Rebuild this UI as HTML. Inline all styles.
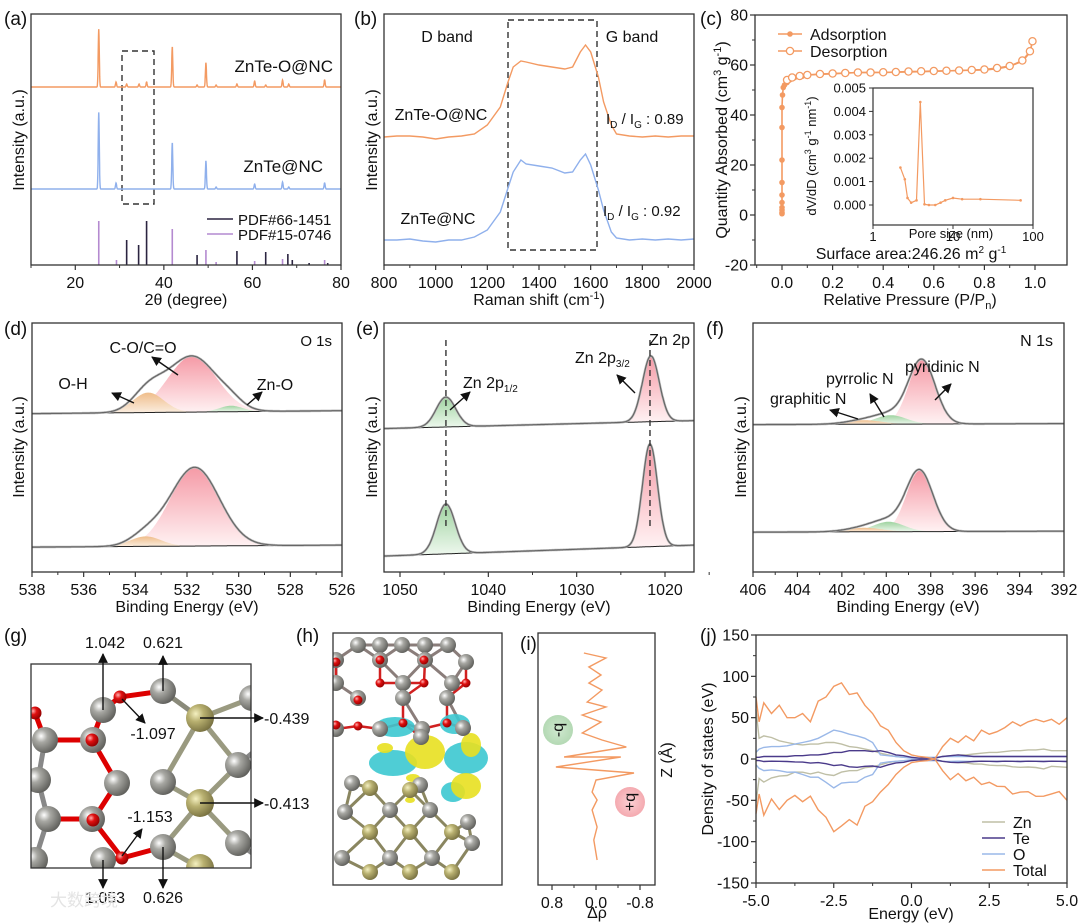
<!DOCTYPE html>
<html><head><meta charset="utf-8">
<style>
html,body{margin:0;padding:0;background:#fff;}
svg{display:block;font-family:"Liberation Sans","Noto Sans CJK SC",sans-serif;}
</style></head>
<body>
<svg id="fig" xmlns="http://www.w3.org/2000/svg" width="1080" height="923" viewBox="0 0 1080 923">
<defs>
<linearGradient id="gPink" x1="0" y1="0" x2="0" y2="1"><stop offset="0" stop-color="#f59aa6"/><stop offset="1" stop-color="#fff2f3"/></linearGradient>
<linearGradient id="gGreen" x1="0" y1="0" x2="0" y2="1"><stop offset="0" stop-color="#9fd3a0"/><stop offset="1" stop-color="#eef8ee"/></linearGradient>
<linearGradient id="gOrange" x1="0" y1="0" x2="0" y2="1"><stop offset="0" stop-color="#efbd8a"/><stop offset="1" stop-color="#fbeee0"/></linearGradient>
<radialGradient id="aGray" cx="0.35" cy="0.35" r="0.7"><stop offset="0" stop-color="#ffffff"/><stop offset="0.35" stop-color="#a8a8a3"/><stop offset="1" stop-color="#5e5e5a"/></radialGradient>
<radialGradient id="aGold" cx="0.35" cy="0.35" r="0.7"><stop offset="0" stop-color="#f4f0c0"/><stop offset="0.4" stop-color="#b8b070"/><stop offset="1" stop-color="#777040"/></radialGradient>
<radialGradient id="aRed" cx="0.35" cy="0.35" r="0.7"><stop offset="0" stop-color="#ffb0b0"/><stop offset="0.4" stop-color="#e01010"/><stop offset="1" stop-color="#900000"/></radialGradient>
<radialGradient id="cGreen"><stop offset="0" stop-color="#cfe8cf"/><stop offset="1" stop-color="#b4d9b4"/></radialGradient>
<radialGradient id="cRed"><stop offset="0" stop-color="#fcd0d4"/><stop offset="1" stop-color="#f4aab0"/></radialGradient>
<marker id="arr" viewBox="0 0 10 10" refX="9" refY="5" markerWidth="7" markerHeight="7" orient="auto-start-reverse"><path d="M0,0 L10,5 L0,10 z" fill="#111"/></marker>
</defs>
</svg>
<script>
// ---------- data ----------
const xrdPeakPos = [25.3,29.2,31.6,34.4,36.1,41.9,47.5,49.5,51.8,56.5,60.5,63.0,66.8,68.2,76.3];
const xrdOrangeH = [58,5,3,3,5,40,2,24,2,3,6,2,7,3,7];
const xrdBlueH   = [77,6,0,0,0,46,0,28,2,0,5,0,7,2,6];
const pdf15Pos = [25.3,29.3,41.9,49.5,51.8,60.5,66.8,76.3];
const pdf15H   = [44,5,36,15,3,4,6,5];
const pdf66Pos = [31.6,34.3,36.1,47.5,56.5,63.0,68.0,69.0,72.8,77.0];
const pdf66H   = [25,20,44,10,14,13,11,5,2,2];

const ramanShift = [800,850,900,950,1000,1050,1100,1150,1200,1250,1280,1300,1330,1350,1400,1450,1500,1530,1560,1580,1600,1630,1650,1680,1700,1750,1800,1850,1900,1950,2000];
const ramanOrange = [0,1,1,0,-2,0,1,3,12,30,55,70,76,75,72,70,68,70,85,92,85,60,35,12,3,1,0,1,0,1,1];
const ramanBlue   = [0,0,1,-1,-2,0,0,3,10,28,52,68,80,76,74,72,67,68,80,86,75,50,30,8,2,0,1,0,1,0,1];

const betP = [0,0,0,0,0,0,0,0,0,0,0.002,0.005,0.01,0.02,0.03,0.05,0.08,0.1,0.15,0.2,0.3,0.4,0.5,0.6,0.7,0.8,0.85,0.9,0.95,0.98,0.99];
const betAds = [0.5,1,2,3,5,8,13,22,35,43,48,51,52,53,54,55,55.5,56,56.3,56.5,57,57,57.2,57.5,57.8,58,58.5,59.5,61.5,65,69.5];
const betDesP = [0.02,0.04,0.07,0.1,0.15,0.2,0.25,0.3,0.35,0.4,0.45,0.5,0.55,0.6,0.65,0.7,0.75,0.8,0.85,0.9,0.95,0.98,0.99];
const betDes = [54,55,55.6,56,56.4,56.6,56.8,57,57,57.1,57.2,57.4,57.5,57.6,57.7,57.8,58,58.2,58.8,59.6,61.8,65.5,69.5];
const poreSize = [2.2,2.5,2.7,3.0,3.5,3.9,4.4,5,6,7,8,10,13,22,70];
const poreDV   = [0.0016,0.0011,0.0003,0.0001,0.0002,0.0044,0.00003,0,0,0.0001,0.0002,0.0003,0.00025,0.00025,0.0002];

// XPS components: [center eV, height, sigma]
const o1sTop = [[531.8,56,0.95],[533.5,20,0.6],[530.3,6,0.45]];
const o1sBot = [[531.7,79,0.95],[533.6,10,0.6]];
const zn2pTop = [[1044.8,30,1.1],[1021.6,66,0.95]];
const zn2pBot = [[1044.8,50,1.05],[1021.7,103,0.85]];
const n1sTop = [[398.4,64,0.6],[399.8,9,0.7],[401.0,4,0.8]];
const n1sBot = [[398.5,61,0.6],[399.9,10,0.7],[401.0,4,0.8]];

const chgZ   = [20.7,20.2,19.3,18.5,17.7,17.0,15.8,15.3,14.5,13.8,12.7,12.0,11.3,10.3,10.3,9.3,8.7,8.0,6.8,6.0,5.0,3.3,2.0,0];
const chgRho = [0.22,-0.18,0.13,-0.09,0.13,-0.11,0.16,-0.18,0.25,-0.09,0.25,-0.11,-0.55,0.58,-0.45,0.73,-0.69,0,0.07,-0.02,0.07,-0.02,0.04,-0.02];

const dosE = [-5,-4.9,-4.75,-4.5,-4.25,-4,-3.75,-3.5,-3.25,-3,-2.75,-2.5,-2.25,-2,-1.75,-1.5,-1.25,-1,-0.75,-0.5,-0.25,0,0.25,0.5,0.75,1,1.25,1.5,1.75,2,2.25,2.5,2.75,3,3.25,3.5,3.75,4,4.25,4.5,4.75,5];
const dosTotal = [75,45,68,55,65,50,50,55,45,70,75,88,92,78,80,65,55,40,35,20,10,5,3,2,0,15,25,20,28,22,35,30,33,38,45,40,45,48,45,48,42,50];
const dosZn = [60,25,28,26,22,20,18,17,18,18,20,20,18,15,14,12,10,7,5,3,2,2,1,1,1,3,4,5,5,6,7,8,8,9,10,10,11,11,12,10,10,10];
const dosO  = [8,12,14,15,15,16,18,20,22,25,30,35,33,30,28,25,20,5,4,3,2,1,1,2,2,3,3,3,3,3,3,3,3,3,3,3,3,3,3,3,3,3];
const dosTe = [2,2,3,3,3,3,4,4,5,5,6,8,8,10,10,10,9,10,8,5,4,2,1,1,1,3,4,5,4,3,3,3,3,3,3,3,3,3,3,3,3,3];

// ---------- helpers ----------
const NS = "http://www.w3.org/2000/svg";
const S = document.getElementById('fig');
function mk(tag, attrs, name, parent){
  const e = document.createElementNS(NS, tag);
  for (const k in attrs) e.setAttribute(k, attrs[k]);
  
  
  (parent || S).appendChild(e);
  return e;
}
function txt(x, y, s, size, name, anchor, rot){
  const t = mk('text', {x:x, y:y, 'font-size':size, fill:'#111', 'text-anchor':anchor||'middle'}, name);
  if (rot) t.setAttribute('transform', 'rotate(' + rot + ' ' + x + ' ' + y + ')');
  t.innerHTML = s;
  return t;
}
function lin(d0,d1,r0,r1){ return v => r0 + (v-d0)*(r1-r0)/(d1-d0); }
function box(x0,y0,x1,y1,name){ return mk('rect',{x:x0,y:y0,width:x1-x0,height:y1-y0,fill:'none',stroke:'#333','stroke-width':1.3},name); }
function xTicks(vals, sc, y, labels, minors, name){
  vals.forEach((v,i)=>{
    mk('line',{x1:sc(v),x2:sc(v),y1:y,y2:y+5,stroke:'#333','stroke-width':1.2},name+'-tick');
    if (labels) txt(sc(v), y+23, labels[i], 16, name+'-label');
  });
  (minors||[]).forEach(v=>mk('line',{x1:sc(v),x2:sc(v),y1:y,y2:y+3,stroke:'#333','stroke-width':1},name+'-minor-tick'));
}
function yTicks(vals, sc, x, labels, minors, name){
  vals.forEach((v,i)=>{
    mk('line',{x1:x-5,x2:x,y1:sc(v),y2:sc(v),stroke:'#333','stroke-width':1.2},name+'-tick');
    if (labels) txt(x-7, sc(v)+5.5, labels[i], 16, name+'-label', 'end');
  });
  (minors||[]).forEach(v=>mk('line',{x1:x-3,x2:x,y1:sc(v),y2:sc(v),stroke:'#333','stroke-width':1},name+'-minor-tick'));
}
function poly(pts, color, w, name, extra){
  const a = {points: pts.map(p=>p[0].toFixed(1)+','+p[1].toFixed(1)).join(' '), fill:'none', stroke:color, 'stroke-width':w};
  for (const k in (extra||{})) a[k]=extra[k];
  return mk('polyline', a, name);
}
function arrow(x1,y1,x2,y2,name){ return mk('line',{x1:x1,y1:y1,x2:x2,y2:y2,stroke:'#111','stroke-width':1.4,'marker-end':'url(#arr)'},name); }
function gauss(x,c){ return c[1]*Math.exp(-0.5*Math.pow((x-c[0])/c[2],2)); }

// ---------- (a) XRD ----------
txt(4,25,'(a)',19,'panel-label-a','start');
const xa = lin(10,80,31,341), ya = lin(0,250,265,15);
mk('rect',{x:122,y:51,width:32,height:153,fill:'none',stroke:'#333','stroke-width':1.4,'stroke-dasharray':'6,4'},'xrd-dashed-region');
function xrdCurve(h, off){
  const pts=[];
  for (let x=10; x<=80.001; x+=0.04){
    let v=off;
    xrdPeakPos.forEach((p,i)=>{ v += h[i]*Math.exp(-0.5*Math.pow((x-p)/0.12,2)); });
    pts.push([xa(x), ya(v)]);
  }
  return pts;
}
poly(xrdCurve(xrdOrangeH,178),'#f39a62',1.4,'xrd-znte-o-nc-line');
poly(xrdCurve(xrdBlueH,76),'#8fb0ec',1.4,'xrd-znte-nc-line');
pdf15Pos.forEach((p,i)=>mk('line',{x1:xa(p),x2:xa(p),y1:265,y2:ya(pdf15H[i]),stroke:'#b48ad0','stroke-width':1.6},'pdf15-0746-bar'));
pdf66Pos.forEach((p,i)=>mk('line',{x1:xa(p),x2:xa(p),y1:265,y2:ya(pdf66H[i]),stroke:'#2b2440','stroke-width':1.6},'pdf66-1451-bar'));
box(31,14,341,265,'xrd-plot-frame');
xTicks([20,40,60,80],xa,265,['20','40','60','80'],[10,30,50,70],'xrd-x');
txt(186,305,'2θ (degree)',16,'xrd-x-axis-title');
txt(24,140,'Intensity (a.u.)',16,'xrd-y-axis-title','middle',-90);
txt(333,72,'ZnTe-O@NC',17,'xrd-label-znte-o-nc','end');
txt(323,172,'ZnTe@NC',17,'xrd-label-znte-nc','end');
mk('line',{x1:207,x2:233,y1:219,y2:219,stroke:'#2b2440','stroke-width':1.6},'legend-pdf66-swatch');
txt(238,225,'PDF#66-1451',15,'legend-pdf66-text','start');
mk('line',{x1:207,x2:233,y1:234,y2:234,stroke:'#b48ad0','stroke-width':1.6},'legend-pdf15-swatch');
txt(238,240,'PDF#15-0746',15,'legend-pdf15-text','start');

// ---------- (b) Raman ----------
txt(354,25,'(b)',19,'panel-label-b','start');
const xb = lin(800,2000,384,694), yb = lin(0,250,265,15);
mk('rect',{x:508,y:20,width:89,height:230,fill:'none',stroke:'#333','stroke-width':1.4,'stroke-dasharray':'6,4'},'raman-dashed-region');
poly(ramanShift.map((s,i)=>[xb(s),yb(ramanOrange[i]+128)]),'#f39a62',1.4,'raman-znte-o-nc-line');
poly(ramanShift.map((s,i)=>[xb(s),yb(ramanBlue[i]+25)]),'#8fb0ec',1.4,'raman-znte-nc-line');
box(384,14,694,265,'raman-plot-frame');
xTicks([800,1000,1200,1400,1600,1800,2000],xb,265,['800','1000','1200','1400','1600','1800','2000'],[900,1100,1300,1500,1700,1900],'raman-x');
txt(539,305,'Raman shift (cm<tspan font-size="11" dy="-6">-1</tspan><tspan dy="6">)</tspan>',16,'raman-x-axis-title');
txt(377,140,'Intensity (a.u.)',16,'raman-y-axis-title','middle',-90);
txt(447,42,'D band',16,'raman-d-band-label');
txt(632,42,'G band',16,'raman-g-band-label');
txt(441,120,'ZnTe-O@NC',16,'raman-label-znte-o-nc');
txt(438,224,'ZnTe@NC',16,'raman-label-znte-nc');
txt(606,124,'I<tspan font-size="10" dy="4">D</tspan><tspan dy="-4"> /  I</tspan><tspan font-size="10" dy="4">G</tspan><tspan dy="-4"> : 0.89</tspan>',15,'raman-ratio-znte-o-nc','start');
txt(603,216,'I<tspan font-size="10" dy="4">D</tspan><tspan dy="-4"> /  I</tspan><tspan font-size="10" dy="4">G</tspan><tspan dy="-4"> : 0.92</tspan>',15,'raman-ratio-znte-nc','start');

// ---------- (c) BET ----------
txt(700,25,'(c)',19,'panel-label-c','start');
const xc = lin(0,1,782,1035), yc = lin(-20,80,265,15);
poly(betP.map((p,i)=>[xc(p),yc(betAds[i])]),'#f39a62',1.6,'bet-adsorption-line');
betP.forEach((p,i)=>mk('circle',{cx:xc(p),cy:yc(betAds[i]),r:2.8,fill:'#f39a62'},'bet-adsorption-point'));
poly(betDesP.map((p,i)=>[xc(p),yc(betDes[i])]),'#f39a62',1.4,'bet-desorption-line');
betDesP.forEach((p,i)=>mk('circle',{cx:xc(p),cy:yc(betDes[i]),r:3.6,fill:'#fff',stroke:'#f39a62','stroke-width':1.3},'bet-desorption-point'));
box(755,15,1067,265,'bet-plot-frame');
xTicks([0,0.2,0.4,0.6,0.8,1.0],xc,265,['0.0','0.2','0.4','0.6','0.8','1.0'],[-0.1,0.1,0.3,0.5,0.7,0.9],'bet-x');
yTicks([-20,0,20,40,60,80],yc,755,['-20','0','20','40','60','80'],[-10,10,30,50,70],'bet-y');
txt(910,305,'Relative Pressure (P/P<tspan font-size="11" dy="4">n</tspan><tspan dy="-4">)</tspan>',16,'bet-x-axis-title');
txt(727,140,'Quantity Absorbed (cm<tspan font-size="11" dy="-6">3</tspan><tspan dy="6"> g</tspan><tspan font-size="11" dy="-6">-1</tspan><tspan dy="6">)</tspan>',16,'bet-y-axis-title','middle',-90);
mk('line',{x1:778,x2:802,y1:34,y2:34,stroke:'#f39a62','stroke-width':1.6},'legend-adsorption-swatch');
mk('circle',{cx:790,cy:34,r:2.8,fill:'#f39a62'},'legend-adsorption-marker');
txt(810,40,'Adsorption',16,'legend-adsorption-text','start');
mk('line',{x1:778,x2:802,y1:51,y2:51,stroke:'#f39a62','stroke-width':1.6},'legend-desorption-swatch');
mk('circle',{cx:790,cy:51,r:3.6,fill:'#fff',stroke:'#f39a62','stroke-width':1.3},'legend-desorption-marker');
txt(810,57,'Desorption',16,'legend-desorption-text','start');
// inset
const xi = v => 873 + Math.log10(v)*80, yi = lin(0,0.005,205,88);
mk('rect',{x:873,y:88,width:160,height:137,fill:'#fff',stroke:'#333','stroke-width':1.2},'pore-inset-frame');
poly(poreSize.map((s,i)=>[xi(s),yi(poreDV[i])]),'#f39a62',1.2,'pore-size-line');
poreSize.forEach((s,i)=>mk('circle',{cx:xi(s),cy:yi(poreDV[i]),r:1.3,fill:'#f39a62'},'pore-size-point'));
[0,0.001,0.002,0.003,0.004,0.005].forEach(v=>{
  mk('line',{x1:869,x2:873,y1:yi(v),y2:yi(v),stroke:'#333','stroke-width':1},'pore-y-tick');
  txt(866,yi(v)+4.5,v.toFixed(3),13,'pore-y-label','end');
});
[1,10,100].forEach(v=>{
  mk('line',{x1:xi(v),x2:xi(v),y1:225,y2:229,stroke:'#333','stroke-width':1},'pore-x-tick');
  txt(xi(v),241,String(v),13,'pore-x-label');
});
txt(951,238,'Pore size (nm)',13,'pore-x-axis-title');
txt(816,156,'dV/dD (cm<tspan font-size="9" dy="-5">3</tspan><tspan dy="5"> g</tspan><tspan font-size="9" dy="-5">-1</tspan><tspan dy="5"> nm</tspan><tspan font-size="9" dy="-5">-1</tspan><tspan dy="5">)</tspan>',13,'pore-y-axis-title','middle',-90);
txt(911,259,'Surface area:246.26 m<tspan font-size="10" dy="-6">2</tspan><tspan dy="6"> g</tspan><tspan font-size="10" dy="-6">-1</tspan>',16,'surface-area-label');

// ---------- XPS helper ----------
function xps(comps, sc, yscale, off, slope, fills, xmin, xmax, step, name){
  const base = x => off + slope*(x-xmin)/(xmax-xmin);
  comps.forEach((c,k)=>{
    const pts=[];
    for (let x=c[0]-3.2*c[2]; x<=c[0]+3.2*c[2]; x+=step) pts.push([sc(x), yscale(base(x)+gauss(x,c))]);
    const last=pts[pts.length-1], first=pts[0];
    mk('path',{d:'M'+pts.map(p=>p[0].toFixed(1)+','+p[1].toFixed(1)).join(' L')+' L'+last[0].toFixed(1)+','+yscale(base(c[0]+3.2*c[2])).toFixed(1)+' L'+first[0].toFixed(1)+','+yscale(base(c[0]-3.2*c[2])).toFixed(1)+' Z',fill:fills[k],stroke:'none'},name+'-component-'+k);
  });
  const env=[], bl=[];
  for (let x=xmin; x<=xmax+1e-9; x+=step){
    let v=base(x); comps.forEach(c=>v+=gauss(x,c));
    env.push([sc(x),yscale(v)]); bl.push([sc(x),yscale(base(x))]);
  }
  poly(bl,'#222',1,name+'-baseline');
  poly(env,'#bdbdbd',2.4,name+'-raw-data');
  poly(env,'#666',1.2,name+'-fit-envelope');
}

// ---------- (d) O 1s ----------
txt(4,335,'(d)',19,'panel-label-d','start');
const xd = lin(538,526,32,342), yd = lin(0,250,572,323);
xps(o1sTop,xd,yd,162,-3,['url(#gPink)','url(#gOrange)','url(#gGreen)'],526,538,0.03,'o1s-top');
xps(o1sBot,xd,yd,27,-2,['url(#gPink)','url(#gOrange)'],526,538,0.03,'o1s-bottom');
box(32,323,342,572,'o1s-plot-frame');
xTicks([538,536,534,532,530,528,526],xd,572,['538','536','534','532','530','528','526'],[537,535,533,531,529,527],'o1s-x');
txt(187,612,'Binding Energy (eV)',16,'o1s-x-axis-title');
txt(24,447,'Intensity (a.u.)',16,'o1s-y-axis-title','middle',-90);
txt(332,346,'O 1s',15,'o1s-title','end');
txt(143,353,'C-O/C=O',16,'label-c-o-c-eq-o');
txt(73,389,'O-H',16,'label-o-h');
txt(275,390,'Zn-O',16,'label-zn-o');
arrow(178,375,152,357,'arrow-c-o');
arrow(134,403,112,393,'arrow-o-h');
arrow(247,405,262,392,'arrow-zn-o');

// ---------- (e) Zn 2p ----------
txt(356,335,'(e)',19,'panel-label-e','start');
const xe = lin(1050,1020,400,665), ye = lin(0,250,572,323);
xps(zn2pTop,xe,ye,152,-8,['url(#gGreen)','url(#gPink)'],1016.7,1051.8,0.08,'zn2p-top');
xps(zn2pBot,xe,ye,27,-11,['url(#gGreen)','url(#gPink)'],1016.7,1051.8,0.08,'zn2p-bottom');
mk('line',{x1:xe(1044.8),x2:xe(1044.8),y1:340,y2:527,stroke:'#333','stroke-width':1.4,'stroke-dasharray':'6,4'},'zn2p-1-2-dashed-line');
mk('line',{x1:xe(1021.7),x2:xe(1021.7),y1:340,y2:530,stroke:'#333','stroke-width':1.4,'stroke-dasharray':'6,4'},'zn2p-3-2-dashed-line');
box(384,323,694,572,'zn2p-plot-frame');
xTicks([1050,1040,1030,1020],xe,572,['1050','1040','1030','1020'],[1045,1035,1025,1015],'zn2p-x');
txt(539,612,'Binding Energy (eV)',16,'zn2p-x-axis-title');
txt(377,447,'Intensity (a.u.)',16,'zn2p-y-axis-title','middle',-90);
txt(690,345,'Zn 2p',16,'zn2p-title','end');
txt(575,363,'Zn 2p<tspan font-size="10" dy="4">3/2</tspan>',16,'label-zn-2p-3-2','start');
txt(463,388,'Zn 2p<tspan font-size="10" dy="4">1/2</tspan>',16,'label-zn-2p-1-2','start');
arrow(635,393,617,375,'arrow-zn-2p-3-2');
arrow(450,410,470,392,'arrow-zn-2p-1-2');

// ---------- (f) N 1s ----------
txt(706,335,'(f)',19,'panel-label-f','start');
const xf = lin(406,392,753,1064), yf = lin(0,250,572,323);
xps(n1sTop,xf,yf,149,-1,['url(#gPink)','url(#gGreen)','url(#gOrange)'],392,406,0.04,'n1s-top');
xps(n1sBot,xf,yf,41,-1,['url(#gPink)','url(#gGreen)','url(#gOrange)'],392,406,0.04,'n1s-bottom');
box(753,323,1064,572,'n1s-plot-frame');
xTicks([406,404,402,400,398,396,394,392],xf,572,['406','404','402','400','398','396','394','392'],[405,403,401,399,397,395,393],'n1s-x');
txt(908,612,'Binding Energy (eV)',16,'n1s-x-axis-title');
txt(746,447,'Intensity (a.u.)',16,'n1s-y-axis-title','middle',-90);
txt(1053,346,'N 1s',16,'n1s-title','end');
txt(905,372,'pyridinic N',16,'label-pyridinic-n','start');
txt(826,384,'pyrrolic N',16,'label-pyrrolic-n','start');
txt(770,404,'graphitic N',16,'label-graphitic-n','start');
arrow(935,400,951,384,'arrow-pyridinic');
arrow(884,417,870,394,'arrow-pyrrolic');
arrow(858,419,830,410,'arrow-graphitic');

// ---------- (g) structure ----------
txt(4,642,'(g)',19,'panel-label-g','start');
const gClip = mk('clipPath',{id:'clipG'},'clip-g');
mk('rect',{x:31,y:664,width:220,height:204},'clip-g-rect',gClip);
const gG = mk('g',{'clip-path':'url(#clipG)'},'structure-g-atoms');
const gBonds = [[103,710,120,697,'#d00'],[120,697,163,691,'#d00'],[163,691,200,718,'#8a8a7a'],[200,718,252,698,'#9a9a80'],[200,718,238,765,'#9a9a80'],[200,718,163,782,'#9a9a80'],[238,765,200,803,'#9a9a80'],[163,782,200,803,'#9a9a80'],[200,803,238,843,'#9a9a80'],[200,803,163,847,'#9a9a80'],[163,847,200,868,'#9a9a80'],[122,858,163,847,'#d00'],[103,860,122,858,'#d00'],[92,819,122,858,'#d00'],[93,820,117,783,'#d00'],[117,783,92,740,'#d00'],[92,740,103,710,'#d00'],[45,740,92,740,'#d00'],[45,740,35,713,'#d00'],[45,740,38,780,'#888'],[38,780,48,819,'#888'],[48,819,92,819,'#d00'],[48,819,35,860,'#888'],[238,765,262,745,'#888'],[238,843,262,860,'#888']];
gBonds.forEach(b=>mk('line',{x1:b[0],y1:b[1],x2:b[2],y2:b[3],stroke:b[4],'stroke-width':5,'stroke-linecap':'round'},'bond-g',gG));
[[103,710],[163,691],[45,740],[93,740],[117,783],[163,782],[238,765],[252,698],[48,819],[92,819],[103,860],[163,847],[238,843],[38,780],[35,860]].forEach(p=>mk('circle',{cx:p[0],cy:p[1],r:13,fill:'url(#aGray)'},'carbon-atom-g',gG));
[[200,718],[200,803],[200,868]].forEach(p=>mk('circle',{cx:p[0],cy:p[1],r:14,fill:'url(#aGold)'},'te-atom-g',gG));
[[120,697],[92,740],[93,820],[122,858],[35,713]].forEach(p=>mk('circle',{cx:p[0],cy:p[1],r:6.5,fill:'url(#aRed)'},'oxygen-atom-g',gG));
box(31,664,251,868,'structure-g-frame');
arrow(103,710,103,654,'arrow-1042'); txt(105,648,'1.042',16,'charge-1042');
arrow(163,691,163,656,'arrow-0621'); txt(163,648,'0.621',16,'charge-0621');
arrow(122,699,145,723,'arrow-m1097'); txt(153,739,'-1.097',16,'charge-m1097');
arrow(200,718,263,718,'arrow-m0439'); txt(264,724,'-0.439',16,'charge-m0439','start');
arrow(122,856,142,829,'arrow-m1153'); txt(150,822,'-1.153',16,'charge-m1153');
arrow(200,803,263,803,'arrow-m0413'); txt(264,809,'-0.413',16,'charge-m0413','start');
arrow(103,860,103,888,'arrow-1053'); txt(105,903,'1.053',16,'charge-1053');
arrow(163,847,163,888,'arrow-0626'); txt(163,903,'0.626',16,'charge-0626');
txt(50,906,'大数跨境',17,'watermark','start').setAttribute('fill','#e4e4e4');

// ---------- (h) charge density ----------
txt(296,642,'(h)',19,'panel-label-h','start');
const hClip = mk('clipPath',{id:'clipH'},'clip-h');
mk('rect',{x:333,y:633,width:169,height:252},'clip-h-rect',hClip);
const gH = mk('g',{'clip-path':'url(#clipH)'},'structure-h-atoms');
const hGray=[[358,645],[380,645],[402,645],[425,645],[448,645],[336,660],[380,660],[425,660],[466,662],[336,683],[358,698],[403,683],[452,683],[403,698],[447,698],[336,729],[380,729],[422,729],[463,728],[421,737],[352,783],[420,785],[345,812],[390,810],[430,810],[468,822],[342,858],[390,858],[432,858],[472,843]];
const hGold=[[370,788],[410,790],[370,832],[410,832],[452,832],[370,872],[410,872],[452,872]];
const hRed=[[336,662],[380,660],[424,660],[466,683],[380,683],[424,683],[358,700],[403,723],[447,723],[358,726],[336,725]];
for (let i=0;i<hGray.length;i++) for (let j=i+1;j<hGray.length;j++){
  const d=Math.hypot(hGray[i][0]-hGray[j][0],hGray[i][1]-hGray[j][1]);
  if (d<38) mk('line',{x1:hGray[i][0],y1:hGray[i][1],x2:hGray[j][0],y2:hGray[j][1],stroke:hGray[i][1]<740?'#8a7d7a':'#8a8660','stroke-width':3},'bond-h',gH);
}
hGold.forEach(a=>hGray.forEach(b=>{ if (Math.hypot(a[0]-b[0],a[1]-b[1])<40) mk('line',{x1:a[0],y1:a[1],x2:b[0],y2:b[1],stroke:'#8a8660','stroke-width':3},'bond-h',gH); }));
hRed.forEach(a=>hGray.forEach(b=>{ if (Math.hypot(a[0]-b[0],a[1]-b[1])<26) mk('line',{x1:a[0],y1:a[1],x2:b[0],y2:b[1],stroke:'#d02020','stroke-width':2.5},'bond-h-red',gH); }));
[[395,727,20,10],[393,763,24,13],[466,758,22,16],[455,724,15,10],[453,792,12,10]].forEach(e=>mk('ellipse',{cx:e[0],cy:e[1],rx:e[2],ry:e[3],fill:'#3cc8d0',opacity:0.9},'charge-depletion-blob',gH));
[[425,752,20,17],[471,745,10,12],[466,786,15,13],[385,748,8,5],[413,778,7,4],[410,800,5,3]].forEach(e=>mk('ellipse',{cx:e[0],cy:e[1],rx:e[2],ry:e[3],fill:'#e8e020',opacity:0.9},'charge-accumulation-blob',gH));
hGray.forEach(p=>mk('circle',{cx:p[0],cy:p[1],r:8,fill:'url(#aGray)'},'carbon-atom-h',gH));
hGold.forEach(p=>mk('circle',{cx:p[0],cy:p[1],r:8,fill:'url(#aGold)'},'te-atom-h',gH));
hRed.forEach(p=>mk('circle',{cx:p[0],cy:p[1],r:4.5,fill:'url(#aRed)'},'oxygen-atom-h',gH));
box(333,633,502,885,'structure-h-frame');

// ---------- (i) planar charge ----------
txt(520,650,'(i)',19,'panel-label-i','start');
const xI = lin(0.8,-0.8,552,640), zI = lin(0,20.7,860,653);
mk('circle',{cx:558,cy:730,r:15,fill:'url(#cGreen)'},'minus-q-circle');
txt(558,730,'-q',16,'minus-q-label','middle',-90).setAttribute('dy','5');
mk('circle',{cx:630,cy:802,r:15,fill:'url(#cRed)'},'plus-q-circle');
txt(630,802,'+q',16,'plus-q-label','middle',-90).setAttribute('dy','5');
poly(chgZ.map((z,i)=>[xI(chgRho[i]),zI(z)]),'#f39a62',1.4,'charge-difference-line');
box(538,633,655,885,'charge-plot-frame');
xTicks([0.8,0,-0.8],xI,885,['0.8','0.0','-0.8'],[0.4,-0.4],'charge-x');
txt(597,918,'Δρ',16,'charge-x-axis-title');
txt(672,760,'Z (Å)',16,'charge-z-axis-title','middle',-90);

// ---------- (j) DOS ----------
txt(700,642,'(j)',19,'panel-label-j','start');
const xj = lin(-5,5,756,1067), yj = lin(-150,150,883,635);
const dosSeries = [[dosZn,'#bfbfa6','dos-zn'],[dosO,'#9ab8e8','dos-o'],[dosTe,'#4a3a8a','dos-te'],[dosTotal,'#f39a62','dos-total']];
dosSeries.forEach(s=>{
  poly(dosE.map((e,i)=>[xj(e),yj(s[0][i])]),s[1],1.4,s[2]+'-up');
  poly(dosE.map((e,i)=>[xj(e),yj(-s[0][i]*(0.94+0.06*((i%3)-1)))]),s[1],1.4,s[2]+'-down');
});
box(756,635,1067,883,'dos-plot-frame');
xTicks([-5,-2.5,0,2.5,5],xj,883,['-5.0','-2.5','0.0','2.5','5.0'],[-3.75,-1.25,1.25,3.75],'dos-x');
yTicks([-150,-100,-50,0,50,100,150],yj,756,['-150','-100','-50','0','50','100','150'],[-125,-75,-25,25,75,125],'dos-y');
txt(911,919,'Energy (eV)',16,'dos-x-axis-title');
txt(713,759,'Density of states (eV)',16,'dos-y-axis-title','middle',-90);
[['Zn','#bfbfa6',822],['Te','#4a3a8a',838],['O','#9ab8e8',854],['Total','#f39a62',870]].forEach(l=>{
  mk('line',{x1:982,x2:1005,y1:l[2],y2:l[2],stroke:l[1],'stroke-width':1.6},'legend-'+l[0].toLowerCase()+'-swatch');
  txt(1013,l[2]+6,l[0],16,'legend-'+l[0].toLowerCase()+'-text','start');
});
</script>
</body></html>
